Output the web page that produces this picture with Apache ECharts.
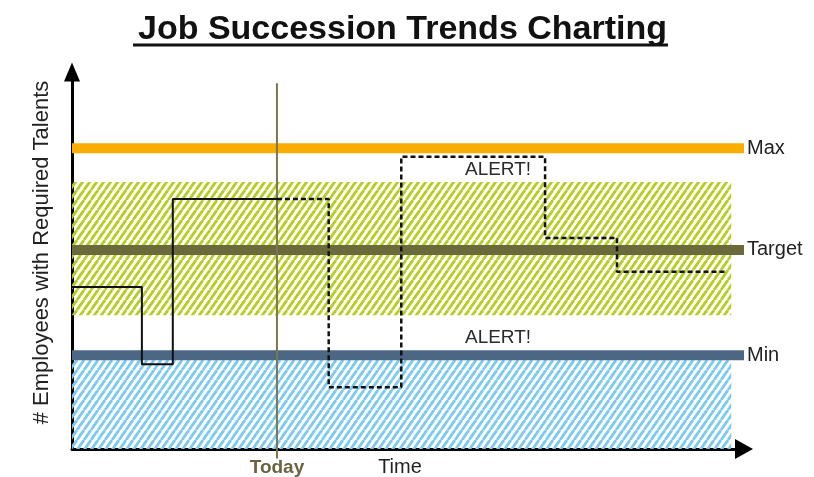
<!DOCTYPE html>
<html>
<head>
<meta charset="utf-8">
<script src="https://cdn.jsdelivr.net/npm/echarts@6/dist/echarts.min.js"></script>
<style>
html,body{margin:0;padding:0;background:#fff;}
#chart{width:814px;height:477px;}
</style>
</head>
<body>
<div id="chart"></div>
<script>
// ---- data ----
const titleText = 'Job Succession Trends Charting';
const yAxisTitle = '# Employees with Required Talents';
const xAxisTitle = 'Time';
const todayLabel = 'Today';
const thresholdNames = ['Max', 'Target', 'Min'];
const thresholdValues = [79.8, 52.8, 24.9];
const thresholdEndX = 100;
const greenBand = [35.5, 70.8];      // lower, upper
const blueBandTop = 24.9;
const bandEndX = 98.1;
const actualSteps = [[0, 43], [10.4, 43], [10.4, 22.5], [15, 22.5], [15, 66.3], [30.5, 66.3]];
const projectedSteps = [[30.5, 66.3], [38.2, 66.3], [38.2, 16.4], [49, 16.4], [49, 77.5], [70.4, 77.5], [70.4, 56], [81.1, 56], [81.1, 47], [97.5, 47]];
const todayX = 30.5;
const todayLineY = [97, -2.5];
const alertPoints = [[63.4, 74], [63.4, 29.4]];
const alertText = 'ALERT!';

function stripes(color) {
  const w = 7, h = 10;
  const c = document.createElement('canvas');
  c.width = w; c.height = h;
  const ctx = c.getContext('2d');
  ctx.strokeStyle = color;
  ctx.lineWidth = 2.8;
  for (let k = -1; k <= 1; k++) {
    ctx.beginPath();
    ctx.moveTo(k * w, h);
    ctx.lineTo(k * w + w, 0);
    ctx.stroke();
  }
  return { image: c, repeat: 'repeat' };
}

const thresholdColors = ['#f8ad00', '#6b6a3b', '#4b6784'];
const FONT = 'Liberation Sans, Arial, sans-serif';

const series = [];
series.push({
  type: 'line', name: 'greenBand', data: [[0, greenBand[1]], [bandEndX, greenBand[1]]],
  symbol: 'none', lineStyle: { width: 0 }, z: 1, silent: true,
  areaStyle: { color: stripes('#b6cd22'), origin: greenBand[0], opacity: 1 }
});
series.push({
  type: 'line', name: 'blueBand', data: [[0, blueBandTop], [bandEndX, blueBandTop]],
  symbol: 'none', lineStyle: { width: 0 }, z: 1, silent: true,
  areaStyle: { color: stripes('#7ccaef'), origin: 'start', opacity: 1 }
});
thresholdNames.forEach((n, i) => {
  series.push({
    type: 'line', name: n, data: [[0, thresholdValues[i]], [thresholdEndX, thresholdValues[i]]],
    symbol: 'none', z: 2, silent: true,
    lineStyle: { width: 10, color: thresholdColors[i], cap: 'butt' },
    endLabel: { show: true, formatter: n, distance: 3, fontSize: 20, color: '#222', fontFamily: FONT }
  });
});
series.push({
  type: 'line', name: 'actual', data: actualSteps, symbol: 'none', z: 4,
  lineStyle: { width: 2, color: '#111' }
});
series.push({
  type: 'line', name: 'projected', data: projectedSteps, symbol: 'none', z: 4,
  lineStyle: { width: 2.5, color: '#111', type: [5, 3] }
});
series.push({
  type: 'line', name: 'today', data: [[todayX, todayLineY[0]], [todayX, todayLineY[1]]],
  symbol: 'none', z: 3, clip: false,
  lineStyle: { width: 2, color: '#7b7750' }
});
series.push({
  type: 'scatter', name: 'todayLabel', data: [[todayX, todayLineY[1]]], symbolSize: 0, clip: false, z: 5,
  itemStyle: { opacity: 1 },
  label: { show: true, position: 'bottom', distance: 0, formatter: todayLabel, fontSize: 19, fontWeight: 'bold', color: '#6a6440', textBorderWidth: 0, fontFamily: FONT }
});
series.push({
  type: 'scatter', name: 'alerts', data: alertPoints, symbolSize: 0, z: 5,
  itemStyle: { opacity: 1 },
  label: { show: true, position: 'inside', formatter: alertText, fontSize: 19, color: '#2a2a2a', textBorderWidth: 0, fontFamily: FONT }
});

const chart = echarts.init(document.getElementById('chart'), null, { renderer: 'canvas' });
chart.setOption({
  animation: false,
  backgroundColor: '#fff',
  title: {
    text: titleText, left: 133, top: 8,
    textStyle: { fontSize: 34, fontWeight: 'bold', color: '#111', fontFamily: FONT }
  },
  graphic: [{
    type: 'line', shape: { x1: 133, y1: 45, x2: 668, y2: 45 },
    style: { stroke: '#111', lineWidth: 3 }
  }],
  grid: { left: 72, right: 70, top: 72, bottom: 28, outerBoundsMode: 'none', containLabel: false },
  xAxis: {
    type: 'value', min: 0, max: 100,
    name: xAxisTitle, nameLocation: 'middle', nameGap: 8,
    nameTextStyle: { fontSize: 20, color: '#222', fontFamily: FONT, padding: [0, 16, 0, 0] },
    axisLine: { show: true, onZero: false, lineStyle: { color: '#000', width: 3 }, symbol: ['none', 'triangle'], symbolSize: [20, 18] },
    axisTick: { show: false }, axisLabel: { show: false }, splitLine: { show: false }
  },
  yAxis: {
    type: 'value', min: 0, max: 100,
    name: yAxisTitle, nameLocation: 'middle', nameGap: 19, nameRotate: 90,
    nameTextStyle: { fontSize: 22, color: '#222', fontFamily: FONT, padding: [0, 0, 0, 16] },
    axisLine: { show: true, onZero: false, lineStyle: { color: '#000', width: 3 }, symbol: ['none', 'triangle'], symbolSize: [16, 19] },
    axisTick: { show: false }, axisLabel: { show: false }, splitLine: { show: false }
  },
  series: series
});
</script>
</body>
</html>
